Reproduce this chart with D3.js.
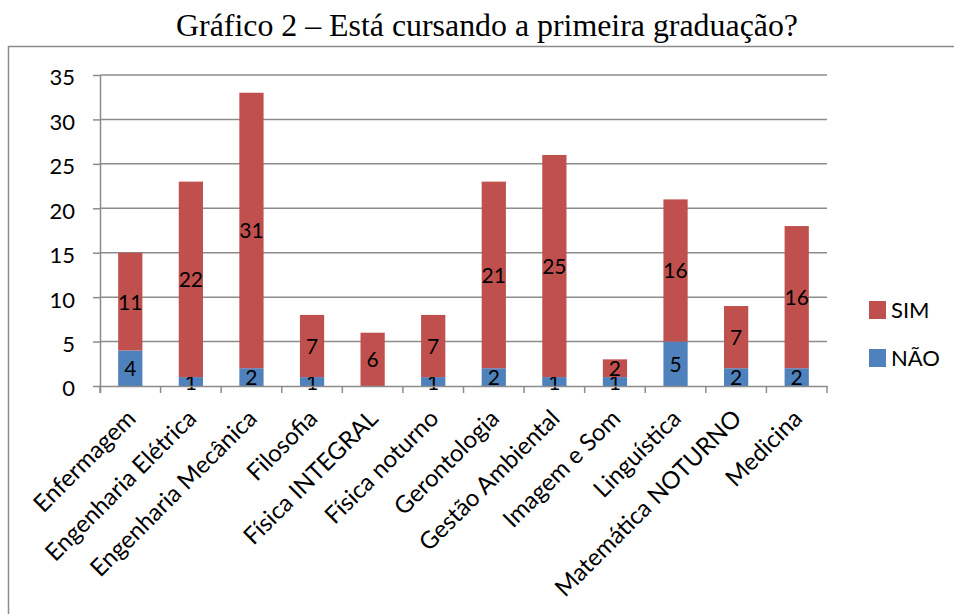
<!DOCTYPE html>
<html>
<head>
<meta charset="utf-8">
<script src="https://cdnjs.cloudflare.com/ajax/libs/d3/7.8.5/d3.min.js"></script>
<style>
	body{margin:0;background:#fff;}
	text{font-family:Lato, "Open Sans", sans-serif;}
	.grid line{stroke:#8c8c8c;stroke-width:1.5;}
</style>
</head>
<body>
<script>
var cursos = ["Enfermagem", "Engenharia Elétrica", "Engenharia Mecânica", "Filosofia",
	"Física INTEGRAL", "Física noturno", "Gerontologia", "Gestão Ambiental",
	"Imagem e Som", "Linguística", "Matemática NOTURNO", "Medicina"];
var nao = [4, 1, 2, 1, 0, 1, 2, 1, 1, 5, 2, 2];
var sim = [11, 22, 31, 7, 6, 7, 21, 25, 2, 16, 7, 16];
var series = ["NÃO", "SIM"];
var cores = ["#4f81bd", "#c0504d"];
var yTicks = [0, 5, 10, 15, 20, 25, 30, 35];

var width = 954, height = 614;
var pLeft = 100, pRight = 827, pTop = 75, pBottom = 386;

var svg = d3.select("body").append("svg")
	.attr("width", width).attr("height", height);

// moldura
svg.append("path")
	.attr("d", "M8.5," + height + "V46.5H" + width)
	.attr("fill", "none").attr("stroke", "#8c8c8c").attr("stroke-width", 1.5);

svg.append("text")
	.attr("x", 176).attr("y", 36)
	.attr("textLength", 622).attr("lengthAdjust", "spacingAndGlyphs")
	.style("font-family", "'Liberation Serif', 'Times New Roman', serif")
	.style("font-size", "31px")
	.text("Gráfico 2 – Está cursando a primeira graduação?");

var x = d3.scaleBand().domain(cursos).range([pLeft, pRight]).paddingInner(0.6).paddingOuter(0.3);
var xb = d3.scaleBand().domain(cursos).range([pLeft, pRight]);
var y = d3.scaleLinear().domain([0, 35]).range([pBottom, pTop]);

// grade
svg.append("g").attr("class", "grid")
	.selectAll("line").data(yTicks.slice(1)).enter().append("line")
	.attr("x1", pLeft).attr("x2", pRight)
	.attr("y1", function(d){return y(d);}).attr("y2", function(d){return y(d);});

var table = cursos.map(function(c, i){return {curso: c, "NÃO": nao[i], "SIM": sim[i]};});
var stack = d3.stack().keys(series)(table);

var layers = svg.append("g").selectAll("g").data(stack).enter().append("g")
	.attr("fill", function(d, i){return cores[i];});
layers.selectAll("rect").data(function(d){return d;}).enter().append("rect")
	.attr("x", function(d){return x(d.data.curso);})
	.attr("width", x.bandwidth())
	.attr("y", function(d){return y(d[1]);})
	.attr("height", function(d){return y(d[0]) - y(d[1]);});

// eixos
var yAxis = svg.append("g").attr("transform", "translate(" + pLeft + ",0)")
	.call(d3.axisLeft(y).tickValues(yTicks).tickSize(7).tickPadding(18));
var xAxis = svg.append("g").attr("transform", "translate(0," + pBottom + ")")
	.call(d3.axisBottom(xb).tickSize(0).tickFormat(""));
svg.append("g").selectAll("line").data(d3.range(cursos.length + 1)).enter().append("line")
	.attr("x1", function(i){return pLeft + i * xb.step();})
	.attr("x2", function(i){return pLeft + i * xb.step();})
	.attr("y1", pBottom).attr("y2", pBottom + 7)
	.attr("stroke", "#8c8c8c").attr("stroke-width", 1.5);
[yAxis, xAxis].forEach(function(a){
	a.selectAll(".domain").attr("stroke", "#8c8c8c").attr("stroke-width", 1.5);
	a.selectAll(".tick line").attr("stroke", "#8c8c8c").attr("stroke-width", 1.5);
});
yAxis.selectAll("text").style("font-size", "22px").attr("fill", "#000").attr("dy", "0.45em");
yAxis.select(".domain").attr("d", "M0.5," + pTop + "V" + (pBottom + 7));

// rótulos das categorias
svg.append("g").selectAll("text").data(cursos).enter().append("text")
	.attr("transform", function(d){
		return "translate(" + (xb(d) + xb.bandwidth() / 2 + 1) + "," + (pBottom + 28) + ") rotate(-45)";
	})
	.attr("text-anchor", "end")
	.attr("dy", "0.35em")
	.style("font-size", "24px")
	.text(function(d){return d;});

// rótulos de valores
layers.selectAll("text.v").data(function(d){return d;}).enter()
	.filter(function(d){return d[1] - d[0] > 0;})
	.append("text").attr("class", "v")
	.attr("x", function(d){return x(d.data.curso) + x.bandwidth() / 2;})
	.attr("y", function(d){return y((d[0] + d[1]) / 2);})
	.attr("dy", "0.38em")
	.attr("text-anchor", "middle")
	.attr("fill", "#000")
	.style("font-size", "21px")
	.text(function(d){return d[1] - d[0];});

// legenda
var legend = svg.append("g").selectAll("g").data(["SIM", "NÃO"]).enter().append("g")
	.attr("transform", function(d, i){return "translate(869," + (301 + i * 48) + ")";});
legend.append("rect").attr("width", 17).attr("height", 18)
	.attr("fill", function(d){return cores[series.indexOf(d)];});
legend.append("text").attr("x", 22).attr("y", 9).attr("dy", "0.37em")
	.style("font-size", "22px").text(function(d){return d;});
</script>
</body>
</html>
